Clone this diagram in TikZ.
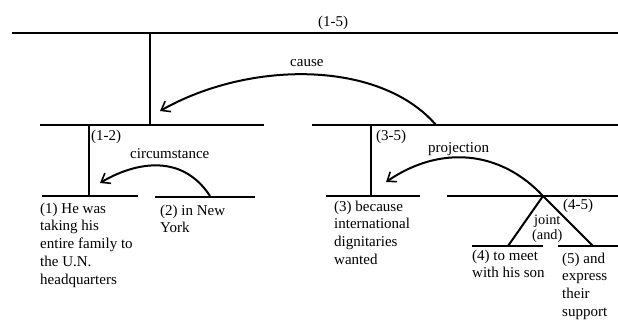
\documentclass[tikz,border=0pt]{standalone}
\usepackage{fontspec}
\setmainfont{Liberation Serif}
\usetikzlibrary{arrows.meta}
\newcommand{\topstrut}{\rule{0pt}{12pt}}
\newcommand{\smallstrut}{\rule{0pt}{11pt}}
\begin{document}
\begin{tikzpicture}[x=1pt,y=-1pt,
  span/.style={line width=2pt},
  rel/.style={line width=2pt,-{Straight Barb[length=8pt,width=12pt,line width=1.6pt]}},
  txt/.style={inner sep=0pt,anchor=north west,align=left,font=\fontsize{15}{17.7}\selectfont},
  lab/.style={inner sep=0pt,anchor=base west,font=\fontsize{15}{17.7}\selectfont},
  small/.style={inner sep=0pt,anchor=north west,align=center,font=\fontsize{14.3}{15.5}\selectfont}]
\useasboundingbox (0,0) rectangle (618,323);
% spans
\coordinate (t1) at (12,33);   \coordinate (t2) at (618,33);
\coordinate (r1) at (150,33);  \coordinate (r2) at (150,125);
\coordinate (a1) at (40,125);  \coordinate (a2) at (264,125);
\coordinate (av1) at (89,125); \coordinate (av2) at (89,196);
\coordinate (b1) at (312,125); \coordinate (b2) at (618,125);
\coordinate (bv1) at (371,125); \coordinate (bv2) at (371,196);
\coordinate (s1a) at (42,196);  \coordinate (s1b) at (138,196);
\coordinate (s2a) at (155,197); \coordinate (s2b) at (255,197);
\coordinate (s3a) at (326,196); \coordinate (s3b) at (420,196);
\coordinate (c1) at (447,196);  \coordinate (c2) at (618,196);
\coordinate (cj) at (543,196);
\coordinate (d4) at (508,246);  \coordinate (d5) at (593,246);
\coordinate (s4a) at (472,246); \coordinate (s4b) at (543,246);
\coordinate (s5a) at (558,246); \coordinate (s5b) at (618,246);
\coordinate (causeS) at (436,125); \coordinate (causeE) at (160,111);
\coordinate (circS) at (210,196);  \coordinate (circE) at (100,183);
\coordinate (projE) at (386,182);

\draw[span] (t1) -- (t2);
\draw[span] (r1) -- (r2);
\draw[span] (a1) -- (a2);
\draw[span] (av1) -- (av2);
\draw[span] (b1) -- (b2);
\draw[span] (bv1) -- (bv2);
\draw[span] (s1a) -- (s1b);
\draw[span] (s2a) -- (s2b);
\draw[span] (s3a) -- (s3b);
\draw[span] (c1) -- (c2);
\draw[span] (cj) -- (d4);
\draw[span] (cj) -- (d5);
\draw[span] (s4a) -- (s4b);
\draw[span] (s5a) -- (s5b);

% relations
\draw[rel] (causeS) .. controls (380,60) and (250,60) .. (causeE);
\draw[rel] (circS) .. controls (180,150) and (130,165) .. (circE);
\draw[rel] (cj) .. controls (500,150) and (440,145) .. (projE);

% labels
\node[lab] (l15) at (318,27) {(1-5)};
\node[lab] (lcause) at (290,67) {cause};
\node[lab] (l12) at (91,141) {(1-2)};
\node[lab] (lcirc) at (130,159) {circumstance};
\node[lab] (l35) at (376,141) {(3-5)};
\node[lab] (lproj) at (428,153) {projection};
\node[lab] (l45) at (563,210) {(4-5)};
\node[small] (ljoint) at (532,213) {\smallstrut joint\\(and)};

% leaves
\node[txt] (e1) at (40,201) {\topstrut(1) He was\\taking his\\entire family to\\the U.N.\\headquarters};
\node[txt] (e2) at (160,203) {\topstrut(2) in New\\York};
\node[txt] (e3) at (334,199) {\topstrut(3) because\\international\\dignitaries\\wanted};
\node[txt] (e4) at (472,248) {\topstrut(4) to meet\\with his son};
\node[txt] (e5) at (562,251) {\topstrut(5) and\\express\\their\\support};
\end{tikzpicture}
\end{document}
